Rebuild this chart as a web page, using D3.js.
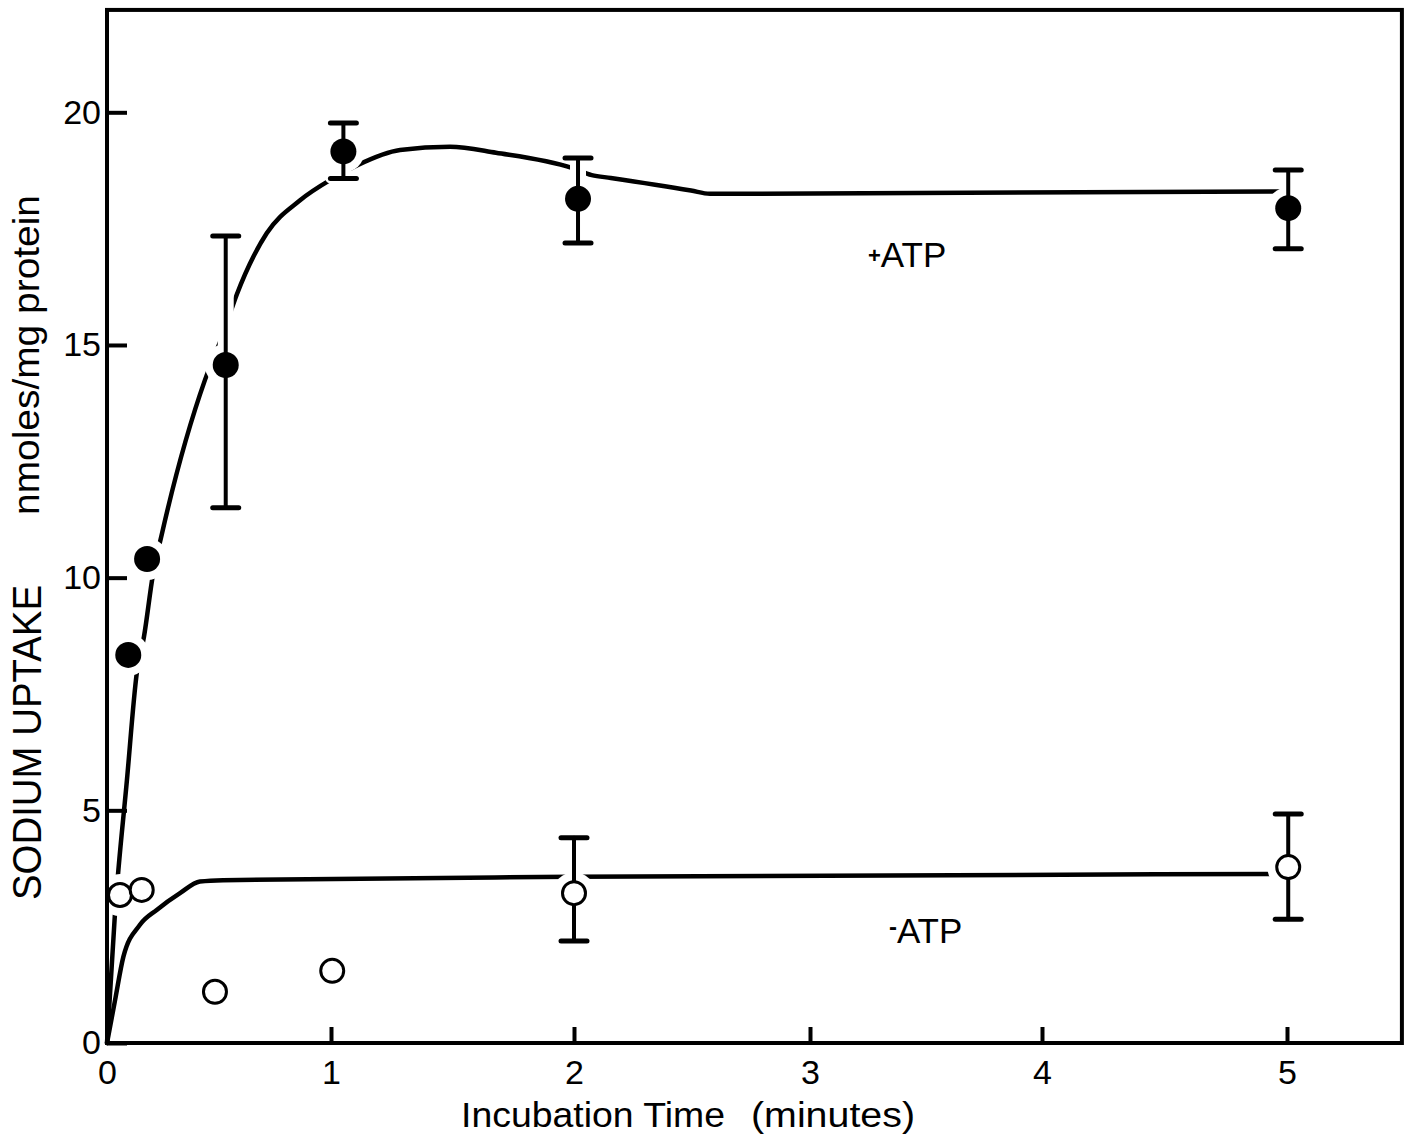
<!DOCTYPE html>
<html>
<head>
<meta charset="utf-8">
<script src="https://cdn.jsdelivr.net/npm/d3@7"></script>
<style>
	body { margin: 0; background: #fff; }
	svg { display: block; }
	text { font-family: "Liberation Sans", Arial, Helvetica, sans-serif; fill: #000; }
</style>
</head>
<body>
<div id="chart"></div>
<script>
// incubation time (minutes) and sodium uptake (nmoles/mg protein)
var plusTime  = [0.095, 0.179, 0.53, 1.051, 2.017, 5.005];
var plusValue = [8.34, 10.40, 14.57, 19.16, 18.14, 17.94];
var plusLow   = [null, null, 11.50, 18.58, 17.19, 17.07];
var plusHigh  = [null, null, 17.34, 19.77, 19.02, 18.76];

var minusTime  = [0.058, 0.155, 0.482, 1.005, 2.0, 5.005];
var minusValue = [3.18, 3.29, 1.10, 1.55, 3.22, 3.78];
var minusLow   = [null, null, null, null, 2.19, 2.66];
var minusHigh  = [null, null, null, null, 4.41, 4.92];

// hand drawn fitted curves
var plusCurveTime  = [0, 0.036, 0.089, 0.133, 0.165, 0.205, 0.246, 0.4375, 0.517, 0.579, 0.713, 0.862, 1.008, 1.111, 1.284, 1.49, 1.679, 1.994, 2.075, 2.156, 2.496, 2.576, 5.0];
var plusCurveValue = [0, 2.82, 5.65, 7.95, 8.73, 10.06, 10.96, 14.25, 15.22, 16.08, 17.40, 18.11, 18.58, 18.87, 19.19, 19.26, 19.13, 18.80, 18.65, 18.59, 18.32, 18.25, 18.30];

var minusCurveTime  = [0, 0.036, 0.073, 0.147, 0.222, 0.326, 0.415, 0.518, 1.992, 5.0];
var minusCurveValue = [0, 0.92, 1.85, 2.54, 2.86, 3.22, 3.47, 3.50, 3.57, 3.63];

// the hand ruled time axis is not quite even, so each minute has its own span
var xTicks = [0, 1, 2, 3, 4, 5];
var xTickPos = [107, 331, 574, 810, 1042, 1287];
var yTicks = [0, 5, 10, 15, 20];

var width = 1409, height = 1143;
var xMax = 5.469, yMax = 22.2;

var x = d3.scaleLinear().domain(xTicks).range(xTickPos).clamp(false);
var y = d3.scaleLinear().domain([0, 20]).range([1043, 112.3]);

function series(times, values, lows, highs, filled){
	return times.map(function(t, i){
		return {t: t, v: values[i], lo: lows[i], hi: highs[i], filled: filled};
	});
}

function curve(times, values){
	return times.map(function(t, i){ return [t, values[i]]; });
}

var points = series(plusTime, plusValue, plusLow, plusHigh, true)
	.concat(series(minusTime, minusValue, minusLow, minusHigh, false));
var bars = points.filter(function(d){ return d.lo !== null; });

var svg = d3.select("#chart").append("svg")
	.attr("width", width)
	.attr("height", height);

var line = d3.line()
	.x(function(d){ return x(d[0]); })
	.y(function(d){ return y(d[1]); })
	.curve(d3.curveMonotoneX);

svg.append("g")
		.selectAll("path")
		.data([curve(plusCurveTime, plusCurveValue), curve(minusCurveTime, minusCurveValue)])
	.enter().append("path")
		.attr("d", line)
		.attr("fill", "none")
		.attr("stroke", "#000")
		.attr("stroke-width", 4.5)
		.attr("stroke-linecap", "round")
		.attr("stroke-linejoin", "round");

// white halos so the curves break around the marks, as in the drawing
var halo = svg.append("g");
var capW = 13;

function drawBars(g, color, stem, cap){
	var b = g.selectAll("g")
			.data(bars)
		.enter().append("g")
			.attr("stroke", color)
			.attr("stroke-linecap", "round");
	b.append("line")
		.attr("x1", function(d){ return x(d.t); })
		.attr("x2", function(d){ return x(d.t); })
		.attr("y1", function(d){ return y(d.lo); })
		.attr("y2", function(d){ return y(d.hi); })
		.attr("stroke-width", stem);
	["lo", "hi"].forEach(function(k){
		b.append("line")
			.attr("x1", function(d){ return x(d.t) - capW; })
			.attr("x2", function(d){ return x(d.t) + capW; })
			.attr("y1", function(d){ return y(d[k]); })
			.attr("y2", function(d){ return y(d[k]); })
			.attr("stroke-width", cap);
	});
}

drawBars(halo, "#fff", 16, 10);

halo.selectAll("circle")
		.data(points)
	.enter().append("circle")
		.attr("cx", function(d){ return x(d.t); })
		.attr("cy", function(d){ return y(d.v); })
		.attr("r", 21)
		.attr("fill", "#fff");

drawBars(svg.append("g"), "#000", 4, 5);

svg.append("g")
		.selectAll("circle")
		.data(points)
	.enter().append("circle")
		.attr("cx", function(d){ return x(d.t); })
		.attr("cy", function(d){ return y(d.v); })
		.attr("r", function(d){ return d.filled ? 13 : 11.5; })
		.attr("fill", function(d){ return d.filled ? "#000" : "#fff"; })
		.attr("stroke", "#000")
		.attr("stroke-width", function(d){ return d.filled ? 0 : 3; });

// frame
svg.append("rect")
	.attr("x", x(0))
	.attr("y", y(yMax))
	.attr("width", x(xMax) - x(0))
	.attr("height", y(0) - y(yMax))
	.attr("fill", "none")
	.attr("stroke", "#000")
	.attr("stroke-width", 4);

var yAxis = svg.append("g")
	.attr("transform", "translate(" + x(0) + ",0)")
	.call(d3.axisLeft(y).tickValues(yTicks).tickSize(-20).tickPadding(6));

var xAxis = svg.append("g")
	.attr("transform", "translate(0," + y(0) + ")")
	.call(d3.axisBottom(x).tickValues(xTicks).tickFormat(d3.format("d")).tickSize(-16).tickPadding(17));

[yAxis, xAxis].forEach(function(a){
	a.select(".domain").remove();
	a.attr("font-family", null).attr("font-size", null);
	a.selectAll(".tick line").attr("stroke-width", 4);
	a.selectAll(".tick text").attr("font-size", 34);
});

// series labels
var plusLabel = svg.append("text")
	.attr("x", x(3.25))
	.attr("y", y(16.68))
	.attr("font-size", 35);
plusLabel.append("tspan").attr("font-size", 22).attr("font-weight", "bold").attr("dy", -4).text("+");
plusLabel.append("tspan").attr("dy", 4).text("ATP");

var minusLabel = svg.append("text")
	.attr("x", x(3.34))
	.attr("y", y(2.15))
	.attr("font-size", 35);
minusLabel.append("tspan").attr("font-size", 24).attr("font-weight", "bold").attr("dy", -8).text("-");
minusLabel.append("tspan").attr("dy", 8).text("ATP");

// axis titles
svg.append("text")
	.attr("x", 461)
	.attr("y", 1127)
	.attr("font-size", 35)
	.attr("textLength", 264)
	.attr("lengthAdjust", "spacingAndGlyphs")
	.text("Incubation Time");

svg.append("text")
	.attr("x", 751)
	.attr("y", 1127)
	.attr("font-size", 35)
	.attr("textLength", 164)
	.attr("lengthAdjust", "spacingAndGlyphs")
	.text("(minutes)");

svg.append("text")
	.attr("transform", "translate(41,900) rotate(-90)")
	.attr("font-size", 40)
	.attr("textLength", 315)
	.attr("lengthAdjust", "spacingAndGlyphs")
	.text("SODIUM UPTAKE");

svg.append("text")
	.attr("transform", "translate(39,515) rotate(-90)")
	.attr("font-size", 37)
	.attr("textLength", 320)
	.attr("lengthAdjust", "spacingAndGlyphs")
	.text("nmoles/mg protein");
</script>
</body>
</html>
